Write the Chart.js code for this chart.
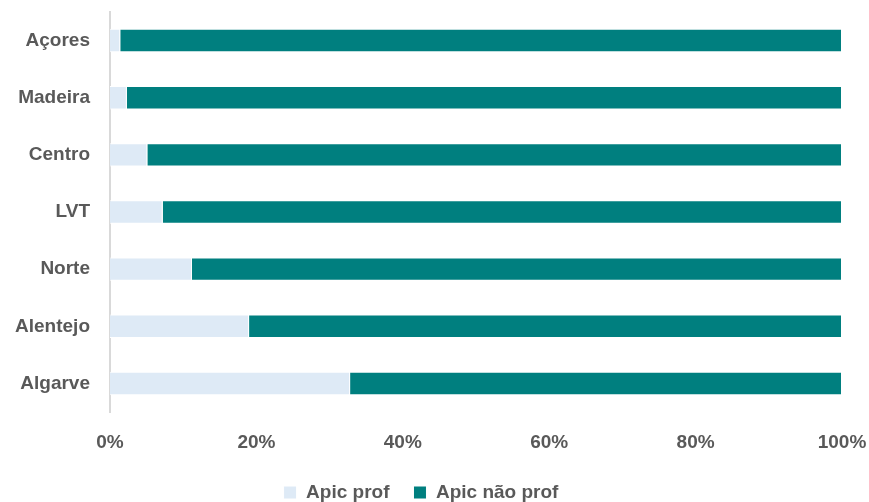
<!DOCTYPE html>
<html>
<head>
<meta charset="utf-8">
<script src="https://cdn.jsdelivr.net/npm/chart.js@4"></script>
<style>
  html, body { margin: 0; padding: 0; background: #fff; }
  #wrap { width: 869px; height: 502px; position: relative; }
</style>
</head>
<body>
<div id="wrap"><canvas id="chart"></canvas></div>
<script>
// Data
const regions = ['Açores', 'Madeira', 'Centro', 'LVT', 'Norte', 'Alentejo', 'Algarve'];
const apicProf = [1.4, 2.3, 5.1, 7.2, 11.2, 19.0, 32.8];
const apicNaoProf = [98.6, 97.7, 94.9, 92.8, 88.8, 81.0, 67.2];
const xTicks = [0, 20, 40, 60, 80, 100];

const FONT = "'Liberation Sans Narrow', 'Liberation Sans', sans-serif";
const TEXT = '#595959';

const ctx = document.getElementById('chart').getContext('2d');
new Chart(ctx, {
    type: 'bar',
    data: {
        labels: regions,
        datasets: [{
            label: 'Apic prof',
            data: apicProf,
            backgroundColor: '#deeaf6',
            borderColor: '#ffffff',
            borderWidth: 1,
            barPercentage: 0.41,
            categoryPercentage: 1
        }, {
            label: 'Apic não prof',
            data: apicNaoProf,
            backgroundColor: '#007f7f',
            borderColor: '#ffffff',
            borderWidth: 1,
            barPercentage: 0.41,
            categoryPercentage: 1
        }]
    },
    options: {
        indexAxis: 'y',
        responsive: true,
        maintainAspectRatio: false,
        animation: false,
        layout: { padding: { top: 12, right: 27, bottom: -10, left: 0 } },
        plugins: {
            tooltip: { enabled: false },
            legend: {
                position: 'bottom',
                labels: {
                    color: TEXT,
                    font: { family: FONT, size: 19, weight: 'bold' },
                    boxWidth: 13,
                    boxHeight: 13,
                    padding: 24
                }
            }
        },
        scales: {
            x: {
                stacked: true,
                min: 0,
                max: 100,
                afterBuildTicks: axis => { axis.ticks = xTicks.map(v => ({ value: v })); },
                afterFit: s => { s.paddingLeft = 0; s.paddingRight = 0; s.height = 47; },
                grid: { display: false, drawTicks: false },
                border: { display: false },
                ticks: {
                    color: TEXT,
                    padding: 19,
                    font: { family: FONT, size: 19, weight: 'bold' },
                    callback: v => v + '%'
                }
            },
            y: {
                stacked: true,
                afterFit: s => { s.width = 110; s.paddingTop = 0; s.paddingBottom = 0; },
                grid: { display: false, drawTicks: false },
                border: { display: true, color: '#d9d9d9', width: 2 },
                ticks: {
                    color: TEXT,
                    padding: 20,
                    font: { family: FONT, size: 19, weight: 'bold' }
                }
            }
        }
    }
});
</script>
</body>
</html>
